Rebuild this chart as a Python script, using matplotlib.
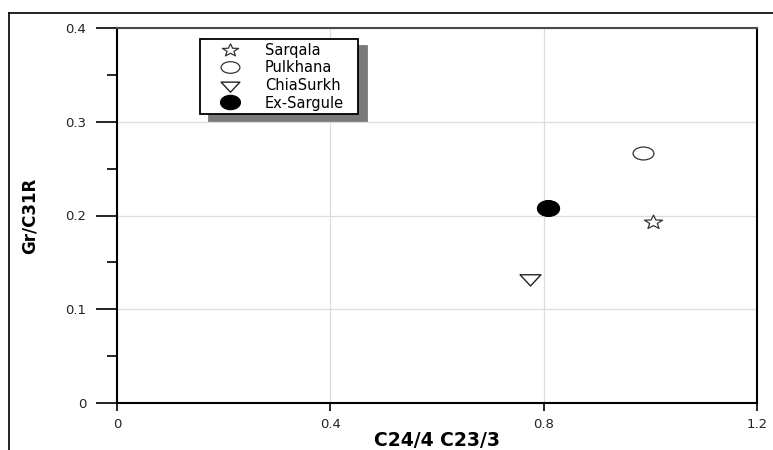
import matplotlib
matplotlib.use('Agg')
import matplotlib.pyplot as plt
from matplotlib.path import Path
from matplotlib.transforms import Affine2D
from matplotlib.lines import Line2D

# Sample data
samples = ['Sarqala', 'Pulkhana', 'ChiaSurkh', 'Ex-Sargule']
x_vals = [1.005, 0.986, 0.775, 0.809]   # C24/4 C23/3
y_vals = [0.193, 0.267, 0.133, 0.208]   # Gr/C31R

plt.rcParams['font.family'] = 'DejaVu Sans'

# squashed marker shapes (the original picture is stretched sideways)
star = Path.unit_regular_star(5, 0.42).transformed(Affine2D().scale(1, 0.78))
ring = Path.unit_circle().transformed(Affine2D().scale(1, 0.62))
tri = Path.unit_regular_polygon(3).transformed(Affine2D().rotate_deg(180).scale(1, 0.62))
dot = Path.unit_circle().transformed(Affine2D().scale(1, 0.72))

styles = [
    dict(marker=star, ms=13, mfc='white', mec='#333333', mew=0.9),
    dict(marker=ring, ms=15, mfc='white', mec='#333333', mew=0.9),
    dict(marker=tri, ms=15, mfc='white', mec='#222222', mew=1.0),
    dict(marker=dot, ms=16, mfc='black', mec='black', mew=0.8),
]

fig = plt.figure(figsize=(7.73, 4.5), dpi=100)
ax = fig.add_axes([117 / 773, 1 - 403 / 450, (757 - 117) / 773, (403 - 28) / 450])

for name, xv, yv, st in zip(samples, x_vals, y_vals, styles):
    ax.plot([xv], [yv], linestyle='none', label=name, zorder=3, **st)

ax.set_xlim(0, 1.2)
ax.set_ylim(0, 0.4)
ax.set_xticks([0, 0.4, 0.8, 1.2])
ax.set_xticklabels(['0', '0.4', '0.8', '1.2'])
ax.set_yticks([0, 0.1, 0.2, 0.3, 0.4])
ax.set_yticklabels(['0', '0.1', '0.2', '0.3', '0.4'])
ax.set_yticks([0.05, 0.15, 0.25, 0.35], minor=True)
ax.grid(True, color='#dcdcdc', linewidth=0.9)
ax.set_axisbelow(True)

ax.tick_params(axis='y', which='major', length=15, width=1.2, pad=7,
               labelsize=9.5, colors='black', labelcolor='#222222')
ax.tick_params(axis='y', which='minor', length=7, width=1.2)
ax.tick_params(axis='x', which='major', length=6, width=1.2, pad=5,
               labelsize=9.5, labelcolor='#222222')

for side in ['left', 'bottom', 'right']:
    ax.spines[side].set_linewidth(1.5)
    ax.spines[side].set_color('black')
ax.spines['top'].set_linewidth(1.5)
ax.spines['top'].set_color('#4a4a4a')

ax.set_xlabel('C24/4 C23/3', fontsize=13.5, fontweight='bold', labelpad=0)
ax.set_ylabel('Gr/C31R', fontsize=12, fontweight='bold', labelpad=19)

leg = ax.legend(loc='upper left',
                bbox_to_anchor=((200 - 117) / 640, (403 - 39) / 375, 158 / 640, 0),
                mode='expand', fontsize=10.5, frameon=True, fancybox=False,
                framealpha=1, edgecolor='black', markerscale=0.9,
                borderpad=0.25, labelspacing=0.18, handletextpad=0.6,
                handlelength=3.6, borderaxespad=0,
                shadow={'ox': 6.5, 'oy': -5, 'color': '#7a7a7a', 'alpha': 1})
leg.get_frame().set_linewidth(1.3)

# outer frame of the original figure (top and left edges)
fig.add_artist(Line2D([9 / 773, 1], [1 - 13 / 450, 1 - 13 / 450],
                      transform=fig.transFigure, color='black', linewidth=1.2))
fig.add_artist(Line2D([9 / 773, 9 / 773], [0, 1 - 13 / 450],
                      transform=fig.transFigure, color='black', linewidth=1.2))

fig.savefig('out.png', dpi=100)
